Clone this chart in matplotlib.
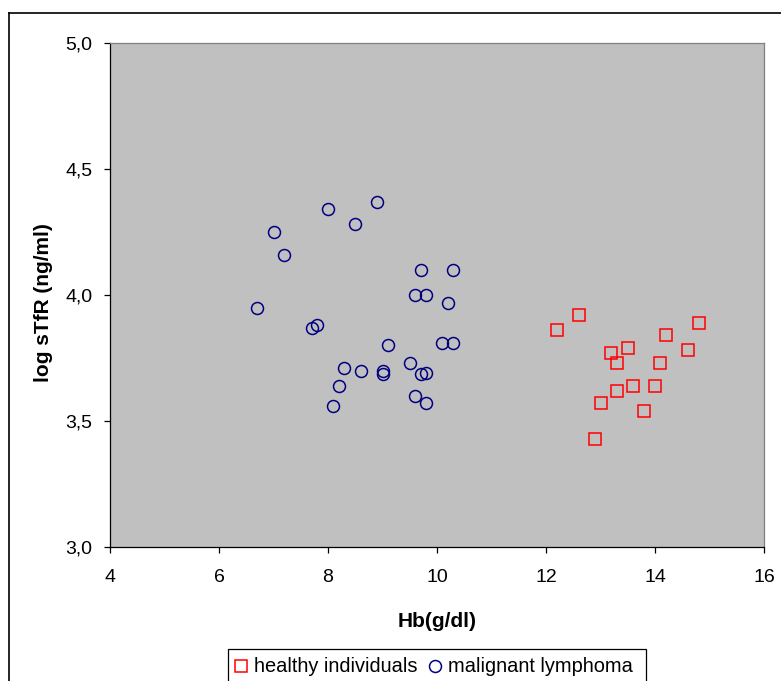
import numpy as np
import matplotlib.pyplot as plt
from matplotlib.lines import Line2D
from matplotlib.patches import Rectangle
from matplotlib.ticker import FuncFormatter

plt.rcParams['font.family'] = ['Liberation Sans', 'DejaVu Sans']

# healthy individuals (red squares)
hb_healthy = [12.6, 12.2, 14.8, 14.2, 14.6, 13.5, 13.2, 13.3, 14.1, 13.6,
              14.0, 13.3, 13.0, 13.8, 12.9]
stfr_healthy = [3.92, 3.86, 3.89, 3.84, 3.78, 3.79, 3.77, 3.73, 3.73, 3.64,
                3.64, 3.62, 3.57, 3.54, 3.43]

# malignant lymphoma (blue circles)
hb_lymph = [8.0, 8.9, 8.5, 7.0, 7.2, 9.7, 10.3, 9.6, 9.8, 10.2,
            6.7, 7.7, 7.8, 9.1, 10.1, 10.3, 8.3, 8.6, 9.0, 9.0,
            9.5, 9.7, 9.8, 8.2, 8.1, 9.6, 9.8]
stfr_lymph = [4.34, 4.37, 4.28, 4.25, 4.16, 4.10, 4.10, 4.00, 4.00, 3.97,
              3.95, 3.87, 3.88, 3.80, 3.81, 3.81, 3.71, 3.70, 3.70, 3.685,
              3.73, 3.685, 3.69, 3.64, 3.56, 3.60, 3.57]

x_ticks = [4, 6, 8, 10, 12, 14, 16]
y_ticks = [3.0, 3.5, 4.0, 4.5, 5.0]

W, H = 781, 681
fig = plt.figure(figsize=(W / 100, H / 100), dpi=100)
ax = fig.add_axes([110 / W, 1 - 547 / H, 654 / W, 504 / H])
ax.set_facecolor('#c0c0c0')

ax.plot(hb_healthy, stfr_healthy, 's', ms=8.6, mfc='none', mec='#ff0000', mew=1.1,
        label='healthy individuals', clip_on=False)
ax.plot(hb_lymph, stfr_lymph, 'o', ms=8.6, mfc='none', mec='#000080', mew=1.1,
        label='malignant lymphoma', clip_on=False)

ax.set_xlim(4, 16)
ax.set_ylim(3.0, 5.0)
ax.set_xticks(x_ticks)
ax.set_yticks(y_ticks)
ax.yaxis.set_major_formatter(FuncFormatter(lambda v, p: ('%.1f' % v).replace('.', ',')))
ax.tick_params(direction='out', length=4.5, width=0.9, labelsize=14, color='black')
ax.tick_params(axis='x', pad=11)
ax.tick_params(axis='y', pad=8)

for s in ['left', 'bottom']:
    ax.spines[s].set_color('black')
    ax.spines[s].set_linewidth(0.9)
for s in ['top', 'right']:
    ax.spines[s].set_color('#808080')
    ax.spines[s].set_linewidth(0.9)

ax.set_xlabel('Hb(g/dl)', fontsize=15, fontweight='bold')
ax.set_ylabel('log sTfR (ng/ml)', fontsize=15, fontweight='bold')
ax.xaxis.set_label_coords(0.5, -0.128)
ax.yaxis.set_label_coords(-0.087, 0.485)

# outer chart frame (cut off at right and bottom)
fig.add_artist(Line2D([9 / W, 1], [1 - 13 / H, 1 - 13 / H], color='black', lw=1.2))
fig.add_artist(Line2D([9 / W, 9 / W], [1 - 13 / H, 0], color='black', lw=1.2))

# legend box
fig.add_artist(Rectangle((228 / W, -0.05), (646 - 228) / W, 0.05 + 1 - 649 / H,
                         transform=fig.transFigure, fill=False, ec='black', lw=0.9))
leg = ax.legend(loc='center left', bbox_to_anchor=(231 / W, 1 - 667 / H),
                bbox_transform=fig.transFigure, ncol=2, frameon=False, fontsize=14.4,
                handlelength=1.0, handletextpad=0.15, columnspacing=0.35,
                borderpad=0, borderaxespad=0)

fig.savefig('out.png', dpi=100)
